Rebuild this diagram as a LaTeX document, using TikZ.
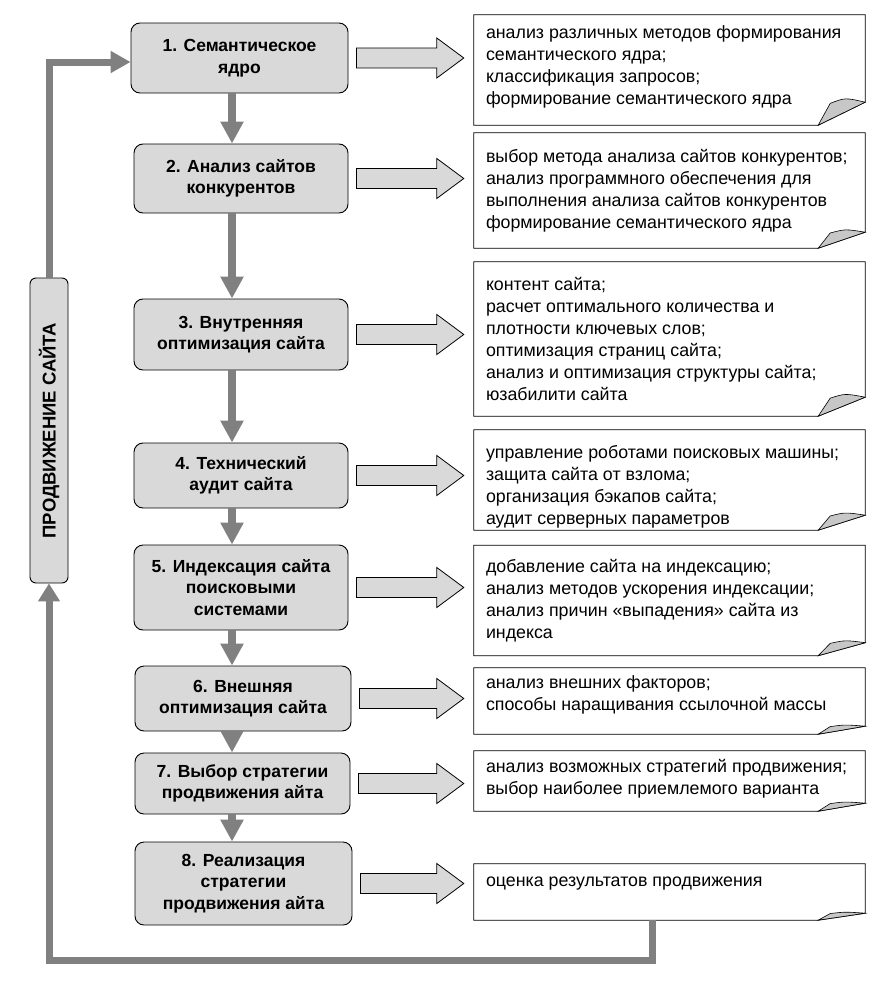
\documentclass[tikz,border=0pt]{standalone}
\usepackage{fontspec}
\setmainfont{Liberation Sans}
\usetikzlibrary{calc,arrows.meta}
\newcommand\docpaper[2]{%
  \draw[paper] (#1.north west) -- (#1.north east) -- ($(#1.south east)+(0,-#2)$)
     -- ($(#1.south east)+(-47,0)$) -- (#1.south west) -- cycle;
  \draw[flap] ($(#1.south east)+(-47,0)$) -- ($(#1.south east)+(-35,{-0.95*#2})$)
     .. controls ($(#1.south east)+(-20,{-1.2*#2})$) .. ($(#1.south east)+(0,-#2)$) -- cycle;
}
\newcommand\blockarrow[2]{%
  \path[blockarr] let \p1=(#1.east), \p2=(#2.west) in
    (\x1+8pt,\y1+10pt) -- (\x2-37pt,\y1+10pt) -- (\x2-37pt,\y1+20pt) -- (\x2-10pt,\y1)
    -- (\x2-37pt,\y1-20pt) -- (\x2-37pt,\y1-10pt) -- (\x1+8pt,\y1-10pt) -- cycle;
}
\begin{document}
\begin{tikzpicture}[x=1pt,y=-1pt,
  stepbox/.style={draw=black, line width=0.9pt, fill=black!15, rounded corners=9pt,
    align=center, font=\fontsize{17.5}{21.5}\selectfont\bfseries, inner sep=0pt},
  docframe/.style={draw=none, inner sep=0pt, minimum width=391pt},
  doctext/.style={align=left, anchor=north west, inner sep=0pt,
    font=\fontsize{17.8}{22}\selectfont},
  paper/.style={draw=black, line width=0.8pt, fill=white},
  flap/.style={draw=black, line width=0.6pt, fill=black!22},
  blockarr/.style={draw=black, line width=0.8pt, fill=black!15},
  downarr/.style={draw=black!50, line width=8pt, -{Triangle[width=22pt,length=22pt]}},
  fb/.style={draw=black!50, line width=7pt}]
\useasboundingbox (0,0) rectangle (886,985);

% process boxes
\node[stepbox, minimum width=217pt, minimum height=70pt] (b1) at (239.5,58) {1. Семантическое\\ядро};
\node[stepbox, minimum width=214pt, minimum height=69pt] (b2) at (241,178.5) {2. Анализ сайтов\\конкурентов};
\node[stepbox, minimum width=214pt, minimum height=71pt] (b3) at (241,334.5) {3. Внутренняя\\оптимизация сайта};
\node[stepbox, minimum width=214pt, minimum height=65pt] (b4) at (241,475.5) {4. Технический\\аудит сайта};
\node[stepbox, minimum width=214pt, minimum height=85pt] (b5) at (241,587.5) {5. Индексация сайта\\поисковыми\\системами};
\node[stepbox, minimum width=216pt, minimum height=65pt] (b6) at (243,698.5) {6. Внешняя\\оптимизация сайта};
\node[stepbox, minimum width=215pt, minimum height=61pt] (b7) at (242.5,783.5) {7. Выбор стратегии\\продвижения айта};
\node[stepbox, minimum width=217pt, minimum height=83pt] (b8) at (243.5,883.5) {8. Реализация\\стратегии\\продвижения айта};

% side box
\node[stepbox, rounded corners=6pt, minimum width=38pt, minimum height=305pt,
  font=\fontsize{18.5}{22}\selectfont\bfseries] (vbox) at (49,430.5)
  {\rotatebox{90}{ПРОДВИЖЕНИЕ САЙТА}};

% documents
\node[docframe, minimum height=110pt] (d1) at (669.5,70) {};
\node[docframe, minimum height=115pt] (d2) at (669.5,190.5) {};
\node[docframe, minimum height=154pt] (d3) at (669.5,339) {};
\node[docframe, minimum height=100pt] (d4) at (669.5,480) {};
\node[docframe, minimum height=110pt] (d5) at (669.5,600.5) {};
\node[docframe, minimum height=66pt] (d6) at (669.5,701) {};
\node[docframe, minimum height=60pt] (d7) at (669.5,781) {};
\node[docframe, minimum height=56pt] (d8) at (669.5,892) {};
\docpaper{d1}{23}
\docpaper{d2}{16}
\docpaper{d3}{19}
\docpaper{d4}{15}
\docpaper{d5}{13}
\docpaper{d6}{8}
\docpaper{d7}{8}
\docpaper{d8}{7}

\node[doctext] (t1) at ($(d1.north west)+(12,11)$) {анализ различных методов формирования\\семантического ядра;\\классификация запросов;\\формирование семантического ядра};
\node[doctext] (t2) at ($(d2.north west)+(12,16)$) {выбор метода анализа сайтов конкурентов;\\анализ программного обеспечения для\\выполнения анализа сайтов конкурентов\\формирование семантического ядра};
\node[doctext] (t3) at ($(d3.north west)+(12,15)$) {контент сайта;\\расчет оптимального количества и\\плотности ключевых слов;\\оптимизация страниц сайта;\\анализ и оптимизация структуры сайта;\\юзабилити сайта};
\node[doctext] (t4) at ($(d4.north west)+(12,15)$) {управление роботами поисковых машины;\\защита сайта от взлома;\\организация бэкапов сайта;\\аудит серверных параметров};
\node[doctext] (t5) at ($(d5.north west)+(12,14)$) {добавление сайта на индексацию;\\анализ методов ускорения индексации;\\анализ причин «выпадения» сайта из\\индекса};
\node[doctext] (t6) at ($(d6.north west)+(12,8)$) {анализ внешних факторов;\\способы наращивания ссылочной массы};
\node[doctext] (t7) at ($(d7.north west)+(12,8)$) {анализ возможных стратегий продвижения;\\выбор наиболее приемлемого варианта};
\node[doctext] (t8) at ($(d8.north west)+(12,13)$) {оценка результатов продвижения};

% block arrows
\blockarrow{b1}{d1}
\blockarrow{b2}{d2}
\blockarrow{b3}{d3}
\blockarrow{b4}{d4}
\blockarrow{b5}{d5}
\blockarrow{b6}{d6}
\blockarrow{b7}{d7}
\blockarrow{b8}{d8}

% down arrows
\coordinate (xa) at (232,0);
\draw[downarr] (b1.south -| xa) -- (b2.north -| xa);
\draw[downarr] (b2.south -| xa) -- (b3.north -| xa);
\draw[downarr] (b3.south -| xa) -- (b4.north -| xa);
\draw[downarr] (b4.south -| xa) -- (b5.north -| xa);
\draw[downarr] (b5.south -| xa) -- (b6.north -| xa);
\draw[downarr] (b6.south -| xa) -- (b7.north -| xa);
\draw[downarr] (b7.south -| xa) -- (b8.north -| xa);

% feedback loop
\coordinate (fbt) at ($(b1.west)+(0,4)$);
\coordinate (fbr) at (652,960);
\coordinate (fbl) at (vbox.south |- fbr);
\draw[fb, -{Triangle[width=21pt,length=20pt]}] (vbox.north) -- (vbox.north |- fbt) -- (fbt);
\draw[fb, -{Triangle[width=21pt,length=18pt]}] (d8.south -| fbr) -- (fbr) -- (fbl) -- (vbox.south);
\end{tikzpicture}
\end{document}
